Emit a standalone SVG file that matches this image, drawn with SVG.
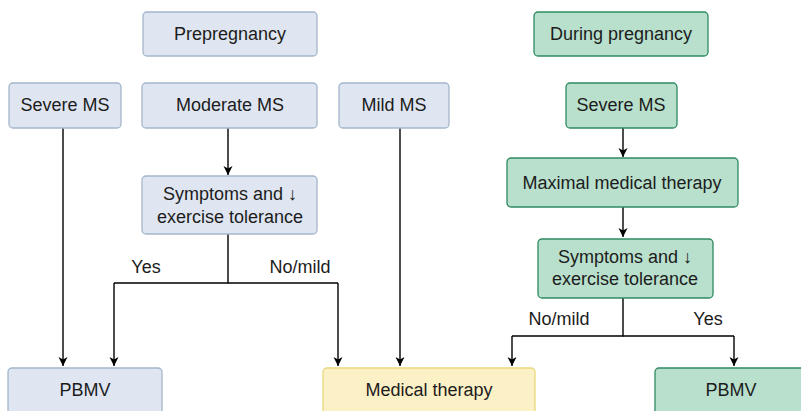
<svg xmlns="http://www.w3.org/2000/svg" width="801" height="411" viewBox="0 0 801 411">
  <style>
    .box { stroke-width: 1.3; }
    .pre { fill: #dfe6f1; stroke: #a4b6cc; }
    .dur { fill: #b8e0cc; stroke: #2f8a62; }
    .med { fill: #fcf0c6; stroke: #e7d97c; }
    text { font-family: "Liberation Sans", Arial, sans-serif; font-size: 18px; fill: #1c1c1c; text-anchor: middle; }
    .edge { fill: none; stroke: #000; stroke-width: 1.4; }
    .arrow { marker-end: url(#head); }
  </style>
  <defs>
    <marker id="head" markerWidth="12" markerHeight="10" refX="9" refY="4.5" orient="auto" markerUnits="userSpaceOnUse">
      <path d="M0,0 L9,4.5 L0,9 L2.5,4.5 z" fill="#000"/>
    </marker>
  </defs>
  <rect width="801" height="411" fill="#fff"/>

  <!-- connectors -->
  <g id="connectors">
    <path class="edge arrow" d="M63,128 V366"/>
    <path class="edge arrow" d="M228,128 V175"/>
    <path class="edge" d="M228,234 V283 H114"/>
    <path class="edge arrow" d="M114,283 V366"/>
    <path class="edge" d="M228,283 H338"/>
    <path class="edge arrow" d="M338,283 V366"/>
    <path class="edge arrow" d="M400,128 V366"/>
    <path class="edge arrow" d="M623,128 V157"/>
    <path class="edge arrow" d="M623,207 V237"/>
    <path class="edge" d="M623,298 V336 H512"/>
    <path class="edge arrow" d="M512,336 V366"/>
    <path class="edge" d="M623,336 H734"/>
    <path class="edge arrow" d="M734,336 V366"/>
    <text x="146" y="273">Yes</text>
    <text x="300" y="273">No/mild</text>
    <text x="559" y="325">No/mild</text>
    <text x="708" y="325">Yes</text>
  </g>

  <!-- prepregnancy column -->
  <g id="prepregnancy">
    <rect class="box pre" x="143" y="12" width="174" height="44" rx="4"/>
    <text x="230" y="40">Prepregnancy</text>
  </g>
  <g id="severe-ms-pre">
    <rect class="box pre" x="9" y="83" width="112" height="45" rx="4"/>
    <text x="65" y="111">Severe MS</text>
  </g>
  <g id="moderate-ms">
    <rect class="box pre" x="142" y="83" width="175" height="45" rx="4"/>
    <text x="230" y="111">Moderate MS</text>
  </g>
  <g id="mild-ms">
    <rect class="box pre" x="339" y="83" width="110" height="45" rx="4"/>
    <text x="394" y="111">Mild MS</text>
  </g>
  <g id="symptoms-pre">
    <rect class="box pre" x="142" y="176" width="175" height="58" rx="4"/>
    <text x="230" y="200">Symptoms and ↓</text>
    <text x="230" y="223">exercise tolerance</text>
  </g>
  <g id="pbmv-pre">
    <rect class="box pre" x="8" y="368" width="154" height="60" rx="4"/>
    <text x="85" y="396">PBMV</text>
  </g>

  <!-- shared outcome -->
  <g id="medical-therapy">
    <rect class="box med" x="323" y="368" width="212" height="60" rx="4"/>
    <text x="429" y="396">Medical therapy</text>
  </g>

  <!-- during pregnancy column -->
  <g id="during-pregnancy">
    <rect class="box dur" x="534" y="12" width="174" height="44" rx="4"/>
    <text x="621" y="40">During pregnancy</text>
  </g>
  <g id="severe-ms-dur">
    <rect class="box dur" x="566" y="83" width="111" height="45" rx="4"/>
    <text x="621" y="111">Severe MS</text>
  </g>
  <g id="maximal-therapy">
    <rect class="box dur" x="507" y="158" width="231" height="49" rx="4"/>
    <text x="622" y="189">Maximal medical therapy</text>
  </g>
  <g id="symptoms-dur">
    <rect class="box dur" x="538" y="239" width="175" height="59" rx="4"/>
    <text x="625" y="263">Symptoms and ↓</text>
    <text x="625" y="285">exercise tolerance</text>
  </g>
  <g id="pbmv-dur">
    <rect class="box dur" x="655" y="368" width="154" height="60" rx="4"/>
    <text x="731" y="396">PBMV</text>
  </g>
</svg>
